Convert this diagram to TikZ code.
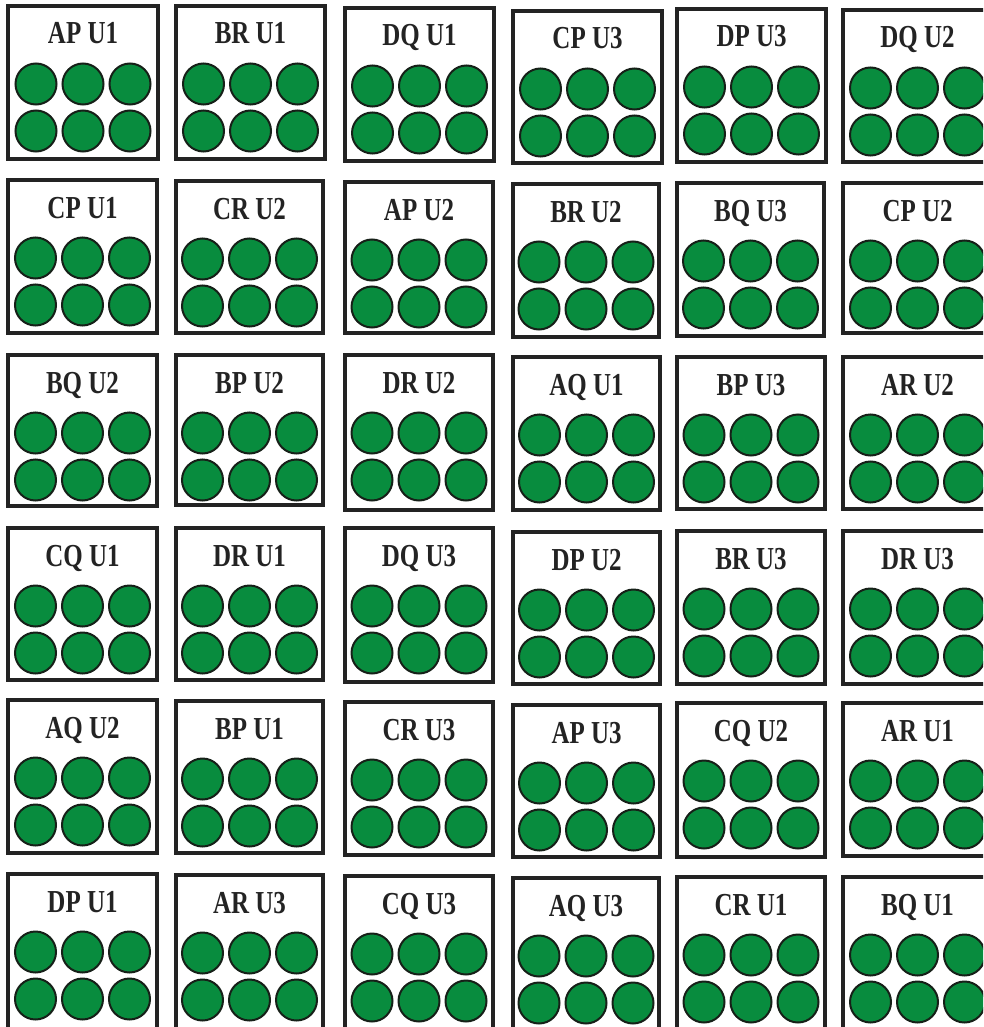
\documentclass[tikz,border=0pt]{standalone}
\usepackage{fontspec}
\setmainfont{Liberation Serif}
\definecolor{wellgreen}{RGB}{8,140,62}
\definecolor{welledge}{RGB}{22,32,24}
\definecolor{edgegray}{RGB}{35,35,35}
\tikzset{
  plate/.style={rectangle, draw=edgegray, line width=3.2pt, fill=white, inner sep=0pt},
  well/.style={circle, draw=welledge, line width=2pt, fill=wellgreen, minimum size=41pt, inner sep=0pt},
  tag/.style={font=\bfseries\fontsize{32}{32}\selectfont, text=edgegray, anchor=base, xscale=0.78, inner sep=0pt}
}
\begin{document}
\begin{tikzpicture}[x=1pt,y=-1pt]
\useasboundingbox (0,0) rectangle (983,1027);
\fill[white] (0,0) rectangle (983,1027);
\clip (0,0) rectangle (983,1027);
\foreach \n/\t/\a/\b/\c/\d in {
  APU1/AP U1/8/6/158/159, BRU1/BR U1/176/6/325/159, DQU1/DQ U1/345/8/494/161,
  CPU3/CP U3/513/11/662/163, DPU3/DP U3/677/9/826/162, DQU2/DQ U2/843/10/992/162,
  CPU1/CP U1/8/180/157/333, CRU2/CR U2/176/181/323/333, APU2/AP U2/345/182/493/333,
  BRU2/BR U2/513/184/659/337, BQU3/BQ U3/677/183/824/336, CPU2/CP U2/843/183/992/333,
  BQU2/BQ U2/8/355/157/506, BPU2/BP U2/176/355/323/505, DRU2/DR U2/345/355/493/510,
  AQU1/AQ U1/513/357/660/510, BPU3/BP U3/677/357/825/509, ARU2/AR U2/843/357/992/509,
  CQU1/CQ U1/8/528/157/680, DRU1/DR U1/176/528/323/680, DQU3/DQ U3/345/528/493/682,
  DPU2/DP U2/513/532/660/684, BRU3/BR U3/677/531/825/684, DRU3/DR U3/843/531/992/684,
  AQU2/AQ U2/8/700/157/853, BPU1/BP U1/176/701/323/853, CRU3/CR U3/345/702/493/855,
  APU3/AP U3/513/705/660/857, CQU2/CQ U2/677/703/825/857, ARU1/AR U1/843/703/992/856,
  DPU1/DP U1/8/874/157/1029, ARU3/AR U3/176/875/323/1030, CQU3/CQ U3/345/876/493/1030,
  AQU3/AQ U3/513/878/659/1031, CRU1/CR U1/677/877/825/1031, BQU1/BQ U1/843/877/992/1031}{
  \pgfmathsetmacro\cx{(\a+\c)/2}
  \pgfmathsetmacro\cy{(\b+\d)/2}
  \pgfmathsetmacro\w{\c-\a}
  \pgfmathsetmacro\h{\d-\b}
  \node[plate, minimum width=\w pt, minimum height=\h pt] (\n) at (\cx,\cy) {};
  \node[tag] (\n-t) at (\cx,\b+38) {\t};
  \foreach \i/\dx/\dy in {1/-47/78, 2/0/78, 3/47/78, 4/-47/125, 5/0/125, 6/47/125}{
    \node[well] (\n-\i) at (\cx+\dx,\b+\dy) {};
  }
}
\end{tikzpicture}
\end{document}
